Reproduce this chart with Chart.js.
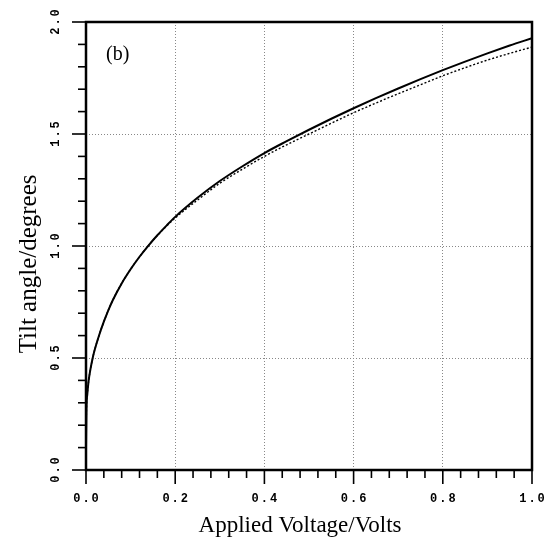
<!DOCTYPE html>
<html>
<head>
<meta charset="utf-8">
<script src="https://cdn.jsdelivr.net/npm/chart.js@4/dist/chart.umd.min.js"></script>
<style>
  html, body { margin: 0; padding: 0; background: #fff; }
  #wrap { width: 544px; height: 539px; }
</style>
</head>
<body>
<div id="wrap"><canvas id="c" width="544" height="539"></canvas></div>
<script>
// ---- data ----
const voltage = [0, 0.001, 0.003, 0.006, 0.01, 0.015, 0.02, 0.03, 0.04, 0.05, 0.06, 0.08, 0.10, 0.12, 0.14, 0.16, 0.18, 0.20, 0.25, 0.30, 0.35, 0.40, 0.45, 0.50, 0.55, 0.60, 0.65, 0.70, 0.75, 0.80, 0.85, 0.90, 0.95, 1.00];
const tiltSolid = [0.10, 0.27, 0.34, 0.40, 0.45, 0.50, 0.54, 0.605, 0.662, 0.713, 0.758, 0.833, 0.896, 0.952, 1.002, 1.048, 1.09, 1.13, 1.215, 1.29, 1.355, 1.415, 1.468, 1.519, 1.568, 1.615, 1.66, 1.703, 1.745, 1.785, 1.823, 1.86, 1.895, 1.928];
const tiltDotted = [0.10, 0.27, 0.34, 0.40, 0.45, 0.50, 0.54, 0.605, 0.662, 0.713, 0.758, 0.833, 0.896, 0.952, 1.002, 1.047, 1.088, 1.125, 1.205, 1.28, 1.342, 1.40, 1.452, 1.50, 1.548, 1.595, 1.638, 1.68, 1.72, 1.76, 1.796, 1.83, 1.86, 1.888];

const xTickValues = [0, 0.2, 0.4, 0.6, 0.8, 1.0];
const xTickLabels = ['0.0', '0.2', '0.4', '0.6', '0.8', '1.0'];
const yTickValues = [0, 0.5, 1.0, 1.5, 2.0];
const yTickLabels = ['0.0', '0.5', '1.0', '1.5', '2.0'];
const xTitle = 'Applied Voltage/Volts';
const yTitle = 'Tilt angle/degrees';
const panelLabel = '(b)';

const toPts = (xs, ys) => xs.map((x, i) => ({ x: x, y: ys[i] }));

const axisPlugin = {
  id: 'axisDecor',
  afterDraw(chart) {
    const ctx = chart.ctx;
    const xs = chart.scales.x, ys = chart.scales.y;
    const ca = chart.chartArea;
    ctx.save();
    ctx.strokeStyle = '#000';
    ctx.lineCap = 'butt';
    // ticks (major + 4 minor between majors)
    ctx.lineWidth = 1.6;
    for (let i = 0; i < xTickValues.length; i++) {
      const v = xTickValues[i];
      let px = xs.getPixelForValue(v);
      ctx.beginPath(); ctx.moveTo(px, ca.bottom); ctx.lineTo(px, ca.bottom + 14); ctx.stroke();
      if (i < xTickValues.length - 1) {
        const step = (xTickValues[i + 1] - v) / 5;
        for (let k = 1; k < 5; k++) {
          px = xs.getPixelForValue(v + k * step);
          ctx.beginPath(); ctx.moveTo(px, ca.bottom); ctx.lineTo(px, ca.bottom + 8); ctx.stroke();
        }
      }
    }
    for (let i = 0; i < yTickValues.length; i++) {
      const v = yTickValues[i];
      let py = ys.getPixelForValue(v);
      ctx.beginPath(); ctx.moveTo(ca.left, py); ctx.lineTo(ca.left - 14, py); ctx.stroke();
      if (i < yTickValues.length - 1) {
        const step = (yTickValues[i + 1] - v) / 5;
        for (let k = 1; k < 5; k++) {
          py = ys.getPixelForValue(v + k * step);
          ctx.beginPath(); ctx.moveTo(ca.left, py); ctx.lineTo(ca.left - 8, py); ctx.stroke();
        }
      }
    }
    // frame
    ctx.lineWidth = 2.5;
    ctx.strokeRect(ca.left, ca.top, ca.right - ca.left, ca.bottom - ca.top);
    // tick labels
    ctx.fillStyle = '#000';
    ctx.font = 'bold 12px "Liberation Mono"';
    try { ctx.letterSpacing = '2px'; } catch (e) {}
    ctx.textAlign = 'center';
    ctx.textBaseline = 'middle';
    for (let i = 0; i < xTickValues.length; i++) {
      ctx.fillText(xTickLabels[i], xs.getPixelForValue(xTickValues[i]) + 1, 499);
    }
    for (let i = 0; i < yTickValues.length; i++) {
      ctx.save();
      ctx.translate(56, ys.getPixelForValue(yTickValues[i]));
      ctx.rotate(-Math.PI / 2);
      ctx.fillText(yTickLabels[i], 1, 0);
      ctx.restore();
    }
    try { ctx.letterSpacing = '0px'; } catch (e) {}
    // axis titles
    ctx.font = '23px "Liberation Serif"';
    ctx.textBaseline = 'alphabetic';
    ctx.fillText(xTitle, xs.getPixelForValue(0.48), 532);
    ctx.font = '25px "Liberation Serif"';
    ctx.save();
    ctx.translate(36, ys.getPixelForValue(0.92));
    ctx.rotate(-Math.PI / 2);
    ctx.fillText(yTitle, 0, 0);
    ctx.restore();
    // panel label
    ctx.font = '20px "Liberation Serif"';
    ctx.textAlign = 'left';
    ctx.fillText(panelLabel, xs.getPixelForValue(0.045), ys.getPixelForValue(1.83));
    ctx.restore();
  }
};

new Chart(document.getElementById('c'), {
  type: 'line',
  data: {
    datasets: [
      {
        label: 'solid',
        data: toPts(voltage, tiltSolid),
        borderColor: '#000',
        borderWidth: 2,
        pointRadius: 0,
        fill: false,
        cubicInterpolationMode: 'monotone'
      },
      {
        label: 'dotted',
        data: toPts(voltage, tiltDotted),
        borderColor: '#000',
        borderWidth: 1.4,
        borderDash: [2, 2],
        pointRadius: 0,
        fill: false,
        cubicInterpolationMode: 'monotone'
      }
    ]
  },
  options: {
    responsive: false,
    animation: false,
    devicePixelRatio: 1,
    layout: { padding: { top: 22, right: 12, left: 0, bottom: 0 } },
    plugins: { legend: { display: false }, tooltip: { enabled: false } },
    scales: {
      x: {
        type: 'linear',
        min: 0, max: 1,
        ticks: { display: false, stepSize: 0.2 },
        grid: { color: '#888', lineWidth: 1, drawTicks: false },
        border: { display: false, dash: [1, 2] },
        title: { display: false, text: xTitle },
        afterFit(s) { s.height = 69; }
      },
      y: {
        type: 'linear',
        min: 0, max: 2,
        ticks: { display: false, stepSize: 0.5 },
        grid: { color: '#888', lineWidth: 1, drawTicks: false },
        border: { display: false, dash: [1, 2] },
        title: { display: false, text: yTitle },
        afterFit(s) { s.width = 86; }
      }
    }
  },
  plugins: [axisPlugin]
});
</script>
</body>
</html>
